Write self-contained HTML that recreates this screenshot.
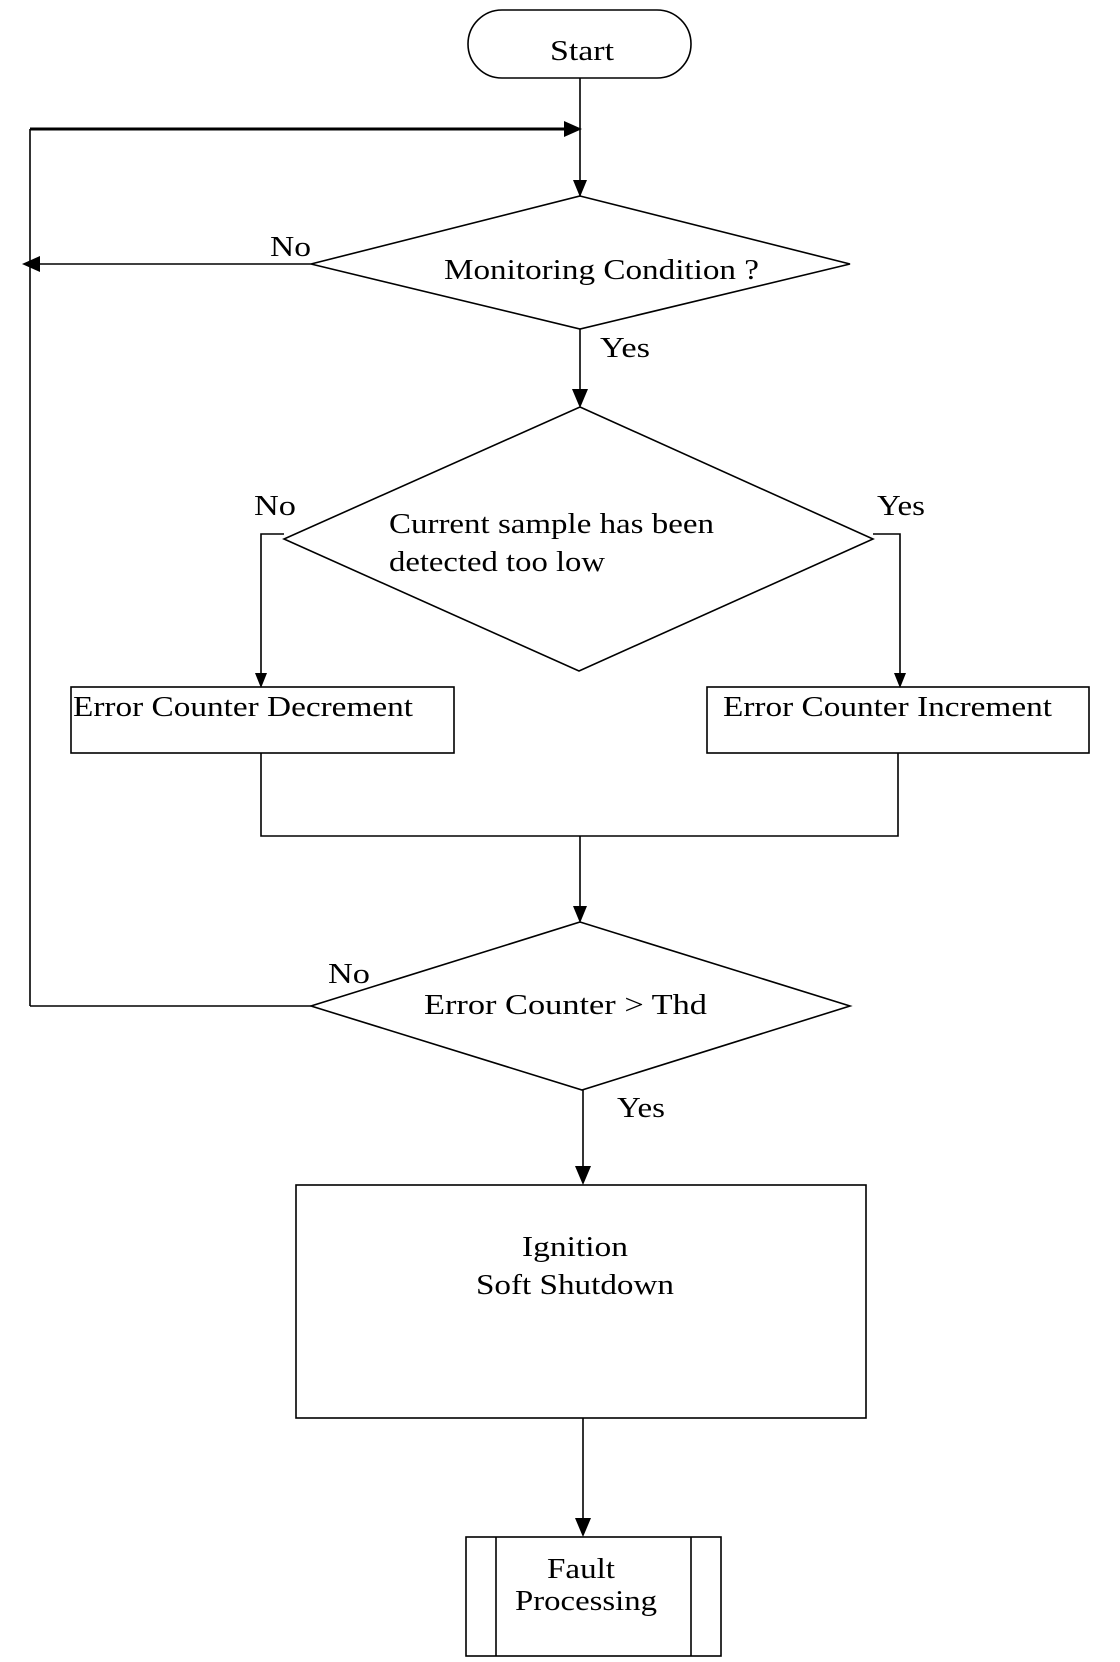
<!DOCTYPE html>
<html><head><meta charset="utf-8"><style>
html,body{margin:0;padding:0;background:#fff;}
svg{display:block;}
text{font-family:"Liberation Serif",serif;fill:#000;}
</style></head><body>
<svg width="1120" height="1662" viewBox="0 0 1120 1662" xmlns="http://www.w3.org/2000/svg">
<g fill="none" stroke="#000" stroke-width="1.6">
<!-- Start -->
<rect x="468" y="10" width="223" height="68" rx="34" ry="34"/>
<line x1="580" y1="78" x2="580" y2="196"/>
<!-- loop -->
<line x1="30" y1="129" x2="568" y2="129" stroke-width="3"/>
<line x1="30" y1="129" x2="30" y2="1006"/>
<!-- diamond1 -->
<polygon points="580,196 850,264 580,329 311,264"/>
<line x1="311" y1="264" x2="36" y2="264"/>
<line x1="580" y1="329" x2="580" y2="395"/>
<!-- diamond2 -->
<polygon points="580,407 873,539 579,671 284,539"/>
<polyline points="284,534 261,534 261,675"/>
<polyline points="873,534 900,534 900,675"/>
<rect x="71" y="687" width="383" height="66"/>
<rect x="707" y="687" width="382" height="66"/>
<polyline points="261,753 261,836 898,836 898,753"/>
<line x1="580" y1="836" x2="580" y2="910"/>
<!-- diamond3 -->
<polygon points="580,922 850,1006 582,1090 311,1006"/>
<line x1="311" y1="1006" x2="30" y2="1006"/>
<line x1="583" y1="1090" x2="583" y2="1170"/>
<rect x="296" y="1185" width="570" height="233"/>
<line x1="583" y1="1418" x2="583" y2="1524"/>
<rect x="466" y="1537" width="255" height="119"/>
<line x1="496" y1="1537" x2="496" y2="1656"/>
<line x1="691" y1="1537" x2="691" y2="1656"/>
</g>
<g fill="#000">
<polygon points="564,121 582,129 564,137"/>
<polygon points="22,264 40,256 40,272"/>
<polygon points="573,180 587,180 580,197"/>
<polygon points="572,389 588,389 580,408"/>
<polygon points="255,673 267,673 261,688"/>
<polygon points="894,673 906,673 900,688"/>
<polygon points="573,906 587,906 580,923"/>
<polygon points="575,1166 591,1166 583,1185"/>
<polygon points="575,1518 591,1518 583,1537"/>
</g>
<g font-size="29">
<text x="550" y="60" textLength="64" lengthAdjust="spacingAndGlyphs">Start</text>
<text x="444" y="279" textLength="315" lengthAdjust="spacingAndGlyphs">Monitoring Condition ?</text>
<text x="270" y="256" textLength="41" lengthAdjust="spacingAndGlyphs">No</text>
<text x="600" y="357" textLength="50" lengthAdjust="spacingAndGlyphs">Yes</text>
<text x="254" y="515" textLength="42" lengthAdjust="spacingAndGlyphs">No</text>
<text x="877" y="515" textLength="48" lengthAdjust="spacingAndGlyphs">Yes</text>
<text x="389" y="533" textLength="325" lengthAdjust="spacingAndGlyphs">Current sample has been</text>
<text x="389" y="571" textLength="216" lengthAdjust="spacingAndGlyphs">detected too low</text>
<text x="73" y="716" textLength="340" lengthAdjust="spacingAndGlyphs">Error Counter Decrement</text>
<text x="723" y="716" textLength="329" lengthAdjust="spacingAndGlyphs">Error Counter Increment</text>
<text x="328" y="983" textLength="42" lengthAdjust="spacingAndGlyphs">No</text>
<text x="424" y="1014" textLength="283" lengthAdjust="spacingAndGlyphs">Error Counter &gt;  Thd</text>
<text x="617" y="1117" textLength="48" lengthAdjust="spacingAndGlyphs">Yes</text>
<text x="522" y="1256" textLength="106" lengthAdjust="spacingAndGlyphs">Ignition</text>
<text x="476" y="1294" textLength="198" lengthAdjust="spacingAndGlyphs">Soft Shutdown</text>
<text x="547" y="1578" textLength="68" lengthAdjust="spacingAndGlyphs">Fault</text>
<text x="515" y="1610" textLength="142" lengthAdjust="spacingAndGlyphs">Processing</text>
</g>
</svg>
</body></html>
